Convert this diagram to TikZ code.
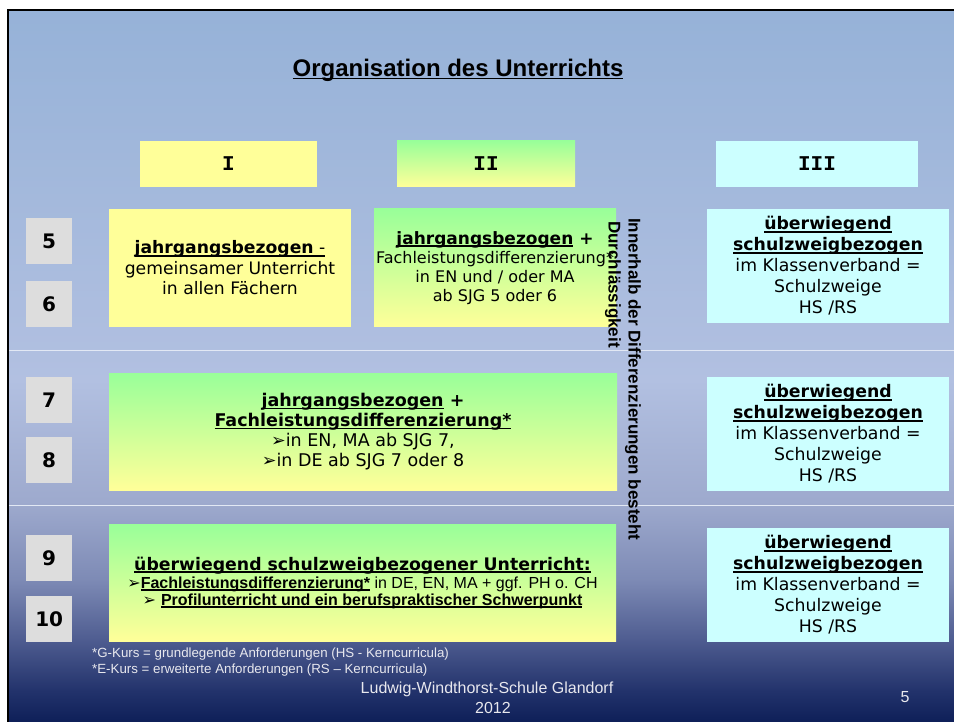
\documentclass[tikz,border=0pt]{standalone}
\usepackage{fontspec}
\setmainfont{DejaVu Sans}
\newfontfamily\dv{DejaVu Sans}
\newfontfamily\arial{Liberation Sans}
\newfontfamily\slab{Liberation Mono}
\definecolor{bgA}{HTML}{96B2D8}
\definecolor{bgB}{HTML}{A4B9DC}
\definecolor{bgC}{HTML}{B2C0E1}
\definecolor{bgD}{HTML}{9DA9CD}
\definecolor{bgE}{HTML}{7D8AB5}
\definecolor{bgF}{HTML}{4E5C90}
\definecolor{bgG}{HTML}{23336C}
\definecolor{bgH}{HTML}{0E1F58}
\definecolor{yel}{HTML}{FFFF99}
\definecolor{grn}{HTML}{99FF99}
\definecolor{cya}{HTML}{CCFFFF}
\definecolor{gry}{HTML}{DDDDDD}
\definecolor{sep}{HTML}{E2E8F4}
\definecolor{foot}{HTML}{E8E8EE}
\newsavebox\ulbox
\newcommand\ul[1]{\sbox\ulbox{#1}\rlap{\rule[-2.8pt]{\wd\ulbox}{1.4pt}}\usebox\ulbox}
\tikzset{
  cell/.style={anchor=north west, inner sep=0pt, outer sep=0pt, align=center,
    font=\fontsize{17.2}{20.5}\selectfont, text=black},
  yelbox/.style={cell, fill=yel},
  grnbox/.style={cell, top color=grn, bottom color=yel},
  cyabox/.style={cell, fill=cya, font=\fontsize{17.3}{21}\selectfont},
  numbox/.style={anchor=north west, inner sep=0pt, fill=gry, minimum width=46pt,
    minimum height=46pt, font=\bfseries\fontsize{20}{20}\selectfont},
  hdrtext/.style={font=\slab\bfseries\fontsize{21}{21}\selectfont},
  rottext/.style={anchor=west, rotate=-90, inner sep=0pt,
    font=\arial\bfseries\fontsize{17}{17}\selectfont},
  foottext/.style={text=foot, inner sep=0pt}
}
\begin{document}
\begin{tikzpicture}[x=1pt,y=-1pt]
\useasboundingbox (0,0) rectangle (954,722);
\fill[white] (0,0) rectangle (954,722);
% background gradient
\fill[top color=bgA, bottom color=bgB] (8,10) rectangle (954,200.5);
\fill[top color=bgB, bottom color=bgC] (8,200) rectangle (954,380.5);
\fill[top color=bgC, bottom color=bgD] (8,380) rectangle (954,505.5);
\fill[top color=bgD, bottom color=bgE] (8,505) rectangle (954,580.5);
\fill[top color=bgE, bottom color=bgF] (8,580) rectangle (954,640.5);
\fill[top color=bgF, bottom color=bgG] (8,640) rectangle (954,690.5);
\fill[top color=bgG, bottom color=bgH] (8,690) rectangle (954,722);
\draw[black, line width=2.6pt] (8,722) -- (8,10) -- (954,10);
% separators
\draw[sep, line width=1pt] (9,351) -- (954,351);
\draw[sep, line width=1pt] (9,505) -- (954,505);
% title
\node[inner sep=0pt, font=\arial\bfseries\fontsize{24}{24}\selectfont] (title) at (458,70) {\ul{Organisation des Unterrichts}};
% headers
\node[yelbox, minimum width=177pt, minimum height=46pt, hdrtext] (h1) at (140,141) {I};
\node[grnbox, minimum width=178pt, minimum height=46pt, hdrtext] (h2) at (397,141) {II};
\node[cyabox, minimum width=202pt, minimum height=46pt, hdrtext] (h3) at (716,141) {III};
% numbers
\node[numbox] (n5) at (26,218) {5};
\node[numbox] (n6) at (26,281) {6};
\node[numbox] (n7) at (26,377) {7};
\node[numbox] (n8) at (26,437) {8};
\node[numbox] (n9) at (26,535) {9};
\node[numbox] (n10) at (26,596) {10};
% row 1
\node[yelbox, minimum width=242pt, minimum height=118pt] (r1a) at (109,209)
  {\ul{\textbf{jahrgangsbezogen} -}\\gemeinsamer Unterricht\\in allen Fächern};
\node[grnbox, minimum width=242pt, minimum height=118pt, font=\fontsize{16}{19.2}\selectfont] (r1b) at (374,209)
  {{\fontsize{17}{19.2}\selectfont\textbf{\ul{jahrgangsbezogen} +}}\\Fachleistungsdifferenzierung*\\in EN und / oder MA\\ab SJG 5 oder 6};
\node[cyabox, minimum width=242pt, minimum height=114pt] (r1c) at (707,209)
  {\textbf{\ul{überwiegend}}\\\textbf{\ul{schulzweigbezogen}}\\im Klassenverband =\\Schulzweige\\HS /RS};
% row 2
\node[grnbox, minimum width=508pt, minimum height=117pt, font=\fontsize{17.5}{20}\selectfont] (r2a) at (109,373)
  {\textbf{\ul{jahrgangsbezogen} +}\\\textbf{\ul{Fachleistungsdifferenzierung*}}\\➢in EN, MA ab SJG 7,\\➢in DE ab SJG 7 oder 8};
\node[cyabox, minimum width=242pt, minimum height=114pt] (r2c) at (707,377)
  {\textbf{\ul{überwiegend}}\\\textbf{\ul{schulzweigbezogen}}\\im Klassenverband =\\Schulzweige\\HS /RS};
% row 3
\node[grnbox, minimum width=507pt, minimum height=117pt, font=\fontsize{17.3}{20}\selectfont] (r3a) at (109,524)
  {\textbf{\ul{überwiegend schulzweigbezogener Unterricht:}}\\[-2pt]
   {\fontsize{16}{18}\selectfont ➢\arial\textbf{\ul{Fachleistungsdifferenzierung*}} in DE, EN, MA + ggf. PH o. CH}\\[-3pt]
   {\fontsize{16}{18}\selectfont ➢ \arial\textbf{\ul{Profilunterricht und ein berufspraktischer Schwerpunkt}}}};
\node[cyabox, minimum width=242pt, minimum height=114pt] (r3c) at (707,528)
  {\textbf{\ul{überwiegend}}\\\textbf{\ul{schulzweigbezogen}}\\im Klassenverband =\\Schulzweige\\HS /RS};
% rotated note
\node[rottext] (rot1) at (633,218) {Innerhalb der Differenzierungen besteht};
\node[rottext] (rot2) at (613,221) {Durchlässigkeit};
% footnotes
\node[foottext, anchor=west, font=\arial\fontsize{13.3}{13.3}\selectfont] (fn1) at (92,654) {*G-Kurs = grundlegende Anforderungen (HS - Kerncurricula)};
\node[foottext, anchor=west, font=\arial\fontsize{13.3}{13.3}\selectfont] (fn2) at (92,670) {*E-Kurs = erweiterte Anforderungen (RS – Kerncurricula)};
\node[foottext, font=\arial\fontsize{16}{16}\selectfont] (school) at (487,689) {Ludwig-Windthorst-Schule Glandorf};
\node[foottext, font=\arial\fontsize{16}{16}\selectfont] (year) at (493,708) {2012};
\node[foottext, font=\arial\fontsize{16}{16}\selectfont] (page) at (905,697) {5};
\end{tikzpicture}
\end{document}
